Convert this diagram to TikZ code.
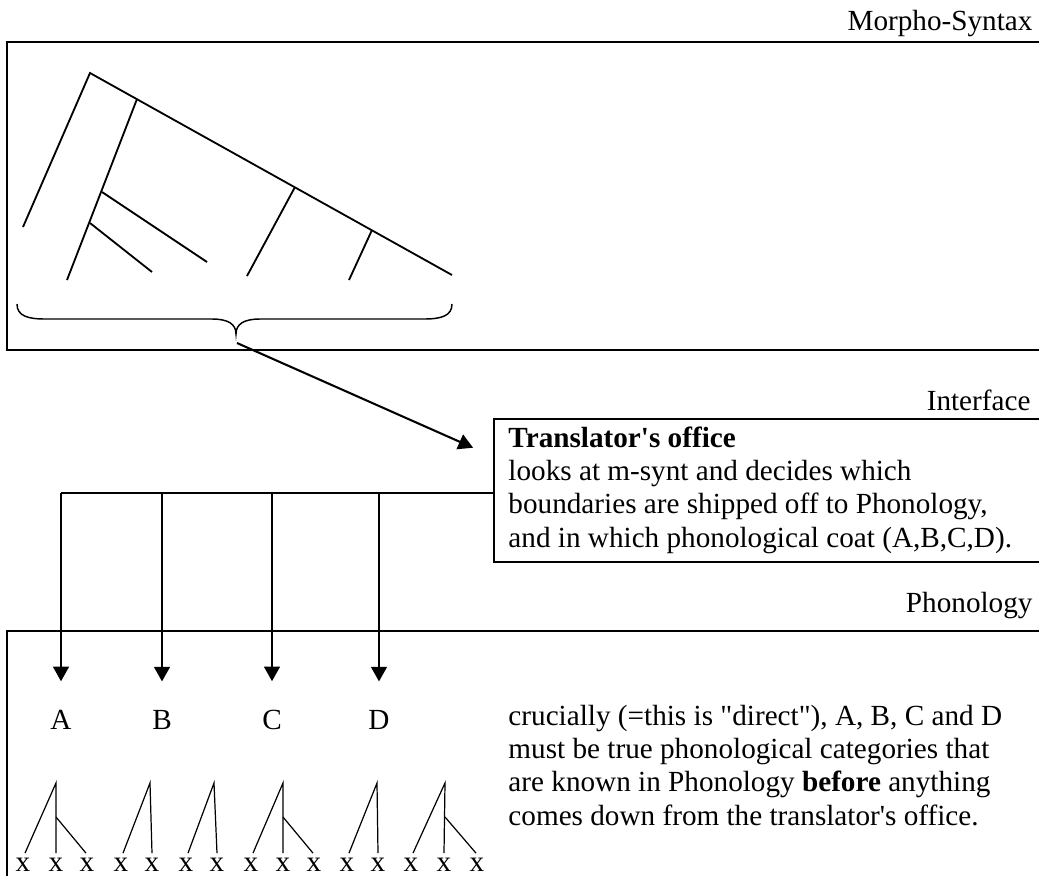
\documentclass[tikz,border=0pt]{standalone}
\usepackage{fontspec}
\setmainfont{Liberation Serif}[Ligatures=TeXOff]
\usetikzlibrary{arrows.meta,calc}
\begin{document}
\begin{tikzpicture}[x=0.411pt,y=-0.411pt,
  frame/.style={line width=1.2pt},
  branch/.style={line width=0.75pt},
  twig/.style={line width=0.5pt},
  conn/.style={line width=0.85pt},
  arr/.style={conn,-{Triangle[length=6pt,width=6.5pt]}},
  lab/.style={font=\fontsize{12}{13.7}\selectfont, inner sep=0pt, anchor=base east},
  txt/.style={font=\fontsize{12}{13.7}\selectfont, inner sep=0pt, anchor=base west, align=left},
  xs/.style={font=\fontsize{12}{13.7}\selectfont, inner sep=0pt, anchor=base}
]
\useasboundingbox (0,0) rectangle (1039,875);
\clip (0,0) rectangle (1039,875);

% ---------- Morpho-Syntax ----------
\node[lab] (ms) at (1033,30) {Morpho-Syntax};
\draw[frame] (1060,42) -- (7,42) -- (7,350) -- (1060,350);

\coordinate (R) at (90,73);
\coordinate (L0) at (23,227);
\coordinate (SE) at (452,275);
\coordinate (N1) at (137,99);
\coordinate (L1) at (67,280);
\coordinate (N2) at (102,192);
\coordinate (L2) at (207,262);
\coordinate (N3) at (90,223);
\coordinate (L3) at (152,272);
\coordinate (N4) at (295,187);
\coordinate (L4) at (247,276);
\coordinate (N5) at (372,230);
\coordinate (L5) at (349,280);
\draw[branch] (L0) -- (R) -- (SE);
\draw[branch] (N1) -- (L1);
\draw[branch] (N2) -- (L2);
\draw[branch] (N3) -- (L3);
\draw[branch] (N4) -- (L4);
\draw[branch] (N5) -- (L5);

% brace
\coordinate (btip) at (236,334);
\draw[line width=0.6pt] (17,304) .. controls (17,316) and (28,319) .. (45,319)
  -- (212,319) .. controls (228,319) and (236,324) .. (btip)
  .. controls (236,324) and (244,319) .. (260,319)
  -- (424,319) .. controls (441,319) and (452,316) .. (452,304);
\coordinate (bstart) at (237,343);

% ---------- Interface ----------
\node[lab] (if) at (1031,410) {Interface};
\draw[frame] (1060,419) -- (494,419) -- (494,562) -- (1060,562);
\coordinate (office) at (494,457);
\node[txt] (offtxt) at (508,547) {\textbf{Translator's office}\\
looks at m-synt and decides which\\
boundaries are shipped off to Phonology,\\
and in which phonological coat (A,B,C,D).};

\draw[arr, shorten >=9.4pt] (bstart) -- (office);

% distributor
\coordinate (d0) at (494,493);
\coordinate (j1) at (61,493);
\coordinate (j2) at (162,493);
\coordinate (j3) at (272,493);
\coordinate (j4) at (379,493);
\draw[conn] (d0) -- (j1);

% ---------- Phonology ----------
\node[lab] (ph) at (1033,612) {Phonology};
\draw[frame] (1060,631) -- (7,631) -- (7,900);

\node[xs] (A) at (61,729) {A};
\node[xs] (B) at (162,729) {B};
\node[xs] (C) at (272,729) {C};
\node[xs] (D) at (379,729) {D};
\draw[arr, shorten >=11.5pt] (j1) -- (A.north);
\draw[arr, shorten >=11.5pt] (j2) -- (B.north);
\draw[arr, shorten >=11.5pt] (j3) -- (C.north);
\draw[arr, shorten >=11.5pt] (j4) -- (D.north);

\node[txt] (phtxt) at (508,825) {crucially (=this is "direct"), A, B, C and D\\
must be true phonological categories that\\
are known in Phonology \textbf{before} anything\\
comes down from the translator's office.};

% skeleton
\foreach \i/\xx in {1/23,2/56,3/87,4/121,5/152,6/186,7/217,8/251,9/283,10/314,11/347,12/378,13/411,14/444,15/477}{
  \node[xs] (x\i) at (\xx,871) {x};
}
\foreach \t/\xx in {1/56,2/150,3/214,4/283,5/377,6/445}{
  \coordinate (t\t) at (\xx,783);
  \coordinate (m\t) at (\xx,817);
}
\foreach \t/\l/\r in {1/1/2,2/4/5,3/6/7,4/8/9,5/11/12,6/13/14}{
  \draw[twig] ($(x\l.north)+(2,-4)$) -- (t\t) -- ($(x\r.north)+(0,-4)$);
}
\draw[twig] (m1) -- ($(x3.north)+(-1,-4)$);
\draw[twig] (m4) -- ($(x10.north)+(-1,-4)$);
\draw[twig] (m6) -- ($(x15.north)+(-1,-4)$);
\end{tikzpicture}
\end{document}
